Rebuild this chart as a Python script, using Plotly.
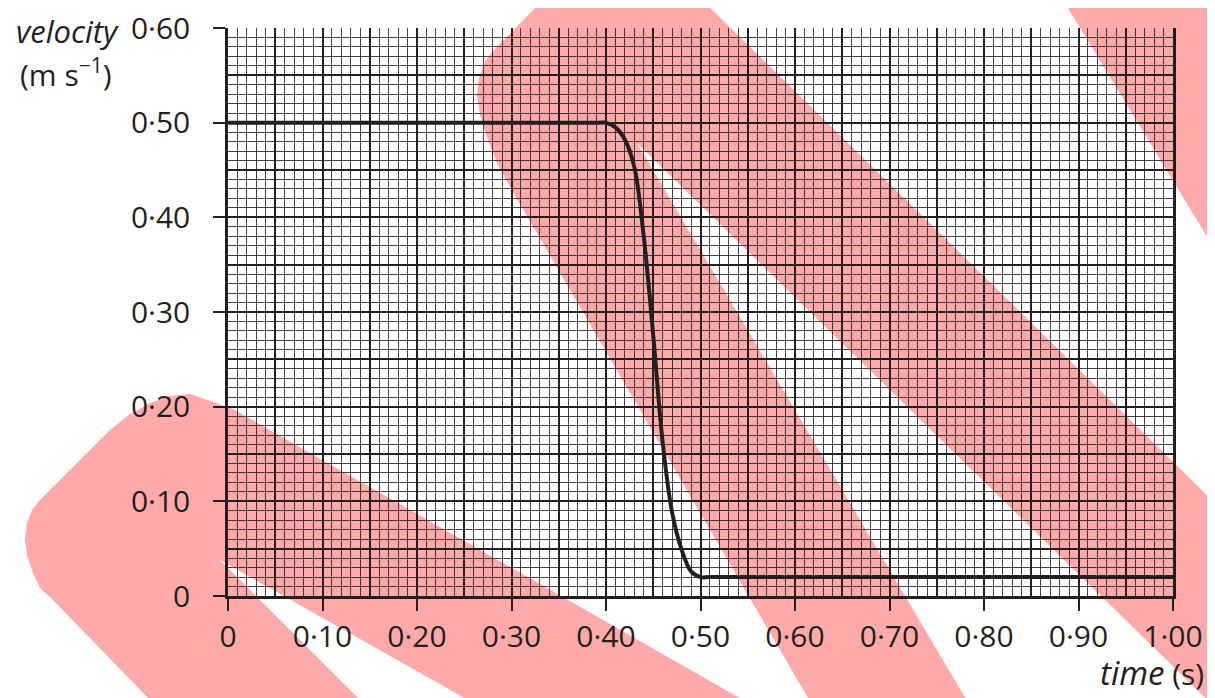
import plotly.graph_objects as go

# ---- data ----
time_s = [0.00, 0.10, 0.20, 0.30, 0.39, 0.40, 0.41, 0.42, 0.43, 0.44, 0.45, 0.46,
          0.47, 0.48, 0.49, 0.50, 0.51, 0.60, 0.70, 0.80, 0.90, 1.00]
velocity = [0.50, 0.50, 0.50, 0.50, 0.50, 0.50, 0.495, 0.482, 0.453, 0.379, 0.275, 0.162,
            0.088, 0.049, 0.026, 0.02, 0.02, 0.02, 0.02, 0.02, 0.02, 0.02]

x_tick_vals = [0.0, 0.1, 0.2, 0.3, 0.4, 0.5, 0.6, 0.7, 0.8, 0.9, 1.0]
x_tick_text = ["0", "0·10", "0·20", "0·30", "0·40", "0·50", "0·60", "0·70", "0·80", "0·90", "1·00"]
y_tick_vals = [0.0, 0.1, 0.2, 0.3, 0.4, 0.5, 0.6]
y_tick_text = ["0", "0·10", "0·20", "0·30", "0·40", "0·50", "0·60"]

# ---- layout geometry (page has an 8px body margin) ----
OFF = 8
W, H = 1215 - OFF, 698 - OFF
L, R, T, B = 228, 1173, 28, 596          # plot area in screen pixels
INK = "#231f20"
PINK = "#ffaaaa"
FONT = "Open Sans"


def px(x, y):
    return (x - L) / (R - L), (B - y) / (B - T)


def path(points):
    pts = [px(x, y) for x, y in points]
    s = "M {:.5f},{:.5f}".format(*pts[0])
    for p in pts[1:]:
        s += " L {:.5f},{:.5f}".format(*p)
    return s + " Z"


stripe_a = [(553, -10), (692, -10), (1270, 557), (1270, 761), (637, 143), (1008, 770),
            (850, 770), (510, 187), (497, 163), (488, 140), (480, 115), (477, 95),
            (479, 78), (485, 62), (492, 52), (543, 0)]
stripe_b = [(190, 394), (233, 409), (866, 770), (592, 770), (220, 560), (430, 770),
            (218, 770), (53, 600), (40, 588), (33, 573), (27, 555), (25, 540),
            (27, 523), (32, 510), (40, 500), (110, 430), (130, 414), (150, 403),
            (170, 396)]
stripe_c = [(1057, -10), (1270, -10), (1270, 340)]

shapes = [dict(type="path", path=path(s), xref="paper", yref="paper",
               fillcolor=PINK, line=dict(width=0), layer="below")
          for s in (stripe_a, stripe_b, stripe_c)]

fig = go.Figure()
fig.add_trace(go.Scatter(x=time_s, y=velocity, mode="lines",
                         line=dict(color=INK, width=4, shape="spline", smoothing=1.0),
                         hoverinfo="skip", showlegend=False))
# invisible trace to host the medium (0.05) grid axes
fig.add_trace(go.Scatter(x=[0], y=[0], xaxis="x2", yaxis="y2", mode="markers",
                         marker=dict(opacity=0), hoverinfo="skip", showlegend=False))

axis_common = dict(
    showgrid=True, gridcolor=INK, gridwidth=2,
    minor=dict(showgrid=True, gridcolor="rgba(35,31,32,0.85)", gridwidth=1),
    ticks="outside", ticklen=12, tickwidth=2, tickcolor=INK,
    showline=True, linecolor=INK, linewidth=2.5, ticklabeloverflow="allow",
    automargin=False, zeroline=False,
    tickfont=dict(family=FONT, size=30, color=INK),
)

fig.update_layout(
    width=W, height=H,
    margin=dict(l=L - OFF, r=W - (R - OFF), t=T - OFF, b=H - (B - OFF), autoexpand=False),
    paper_bgcolor="white", plot_bgcolor="white",
    shapes=shapes,
    xaxis=dict(range=[0, 1], tickvals=x_tick_vals, ticktext=x_tick_text,
               minor_dtick=0.01, minor_tick0=0, ticklabelstandoff=0, **axis_common),
    yaxis=dict(range=[0, 0.6], tickvals=y_tick_vals, ticktext=y_tick_text,
               minor_dtick=0.01, minor_tick0=0, mirror=True, ticklabelstandoff=17,
               **axis_common),
    xaxis2=dict(range=[0, 1], overlaying="x", anchor="y2", tick0=0.05, dtick=0.1,
                showgrid=True, gridcolor=INK, gridwidth=1.5, showticklabels=False,
                ticks="", zeroline=False, showline=False),
    yaxis2=dict(range=[0, 0.6], overlaying="y", anchor="x2", tick0=0.05, dtick=0.1,
                showgrid=True, gridcolor=INK, gridwidth=1.5, showticklabels=False,
                ticks="", zeroline=False, showline=False),
)


def ann(text, x, y, xanchor="center", yanchor="middle", size=30):
    xp, yp = px(x, y)
    fig.add_annotation(text=text, x=xp, y=yp, xref="paper", yref="paper",
                       xanchor=xanchor, yanchor=yanchor, showarrow=False,
                       font=dict(family=FONT, size=size, color=INK))


ann("<i>velocity</i>", 67, OFF, yanchor="top", size=31)
ann("(m s<sup>−1</sup>)", 66, 73)
ann("<span style='font-size:33px'><i>time</i></span> (s)", 1206, 697,
    xanchor="right", yanchor="bottom")

fig.write_html("out.html")
